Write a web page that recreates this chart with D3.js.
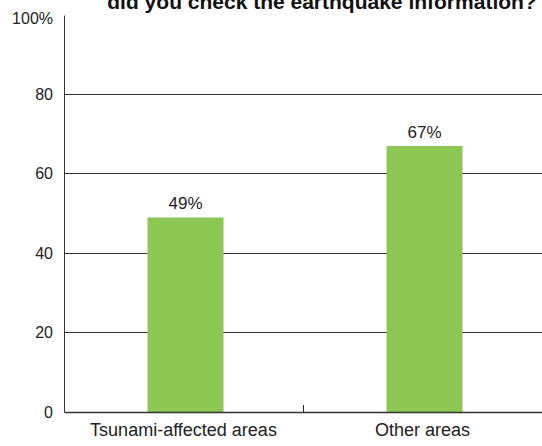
<!DOCTYPE html>
<html><head><meta charset="utf-8">
<script src="https://cdn.jsdelivr.net/npm/d3@7"></script>
<style>body{margin:0;background:#fff}svg{display:block}</style>
</head><body>
<script>
const categories = ["Tsunami-affected areas", "Other areas"];
const values = [49, 67];
const yTicks = [0, 20, 40, 60, 80, 100];
const title = "did you check the earthquake information?";

const W = 542, H = 446;
const m = {left: 64, right: 0, top: 15, bottom: 34};
const svg = d3.select("body").append("svg").attr("width", W).attr("height", H);
const font = "Liberation Sans, Arial, sans-serif";

const x = d3.scaleBand().domain(categories).range([m.left, W - m.right]).paddingInner(0).paddingOuter(0);
const y = d3.scaleLinear().domain([0, 100]).range([H - m.bottom, m.top]);

// gridlines
svg.append("g").selectAll("line").data(yTicks.filter(d => d > 0 && d < 100)).join("line")
  .attr("x1", m.left).attr("x2", W).attr("y1", d => y(d)).attr("y2", d => y(d))
  .attr("stroke", "#333").attr("stroke-width", 1).attr("shape-rendering", "crispEdges");

// bars
const bw = 76;
svg.append("g").selectAll("rect").data(values).join("rect")
  .attr("x", (d, i) => x(categories[i]) + x.bandwidth() / 2 - bw / 2 + 2)
  .attr("width", bw)
  .attr("y", d => y(d)).attr("height", d => y(0) - y(d))
  .attr("fill", "#8cc653");

// value labels
svg.append("g").selectAll("text").data(values).join("text")
  .attr("x", (d, i) => x(categories[i]) + x.bandwidth() / 2 + 2)
  .attr("y", d => y(d) - 8)
  .attr("text-anchor", "middle").attr("font-family", font).attr("font-size", 17).attr("fill", "#222")
  .text(d => d + "%");

// y axis
const yAxis = d3.axisLeft(y).tickValues(yTicks).tickSize(0).tickPadding(11)
  .tickFormat(d => d === 100 ? "100%" : d);
const gy = svg.append("g").attr("transform", `translate(${m.left},0)`).call(yAxis);
gy.select(".domain").attr("stroke", "#333");
gy.selectAll("text").attr("font-family", font).attr("font-size", 16).attr("fill", "#222");
gy.selectAll(".tick").filter(d => d === 100).select("text").attr("dy", "0.5em");

// x axis
const xAxis = d3.axisBottom(x).tickSize(0).tickPadding(11);
const gx = svg.append("g").attr("transform", `translate(0,${y(0)})`).call(xAxis);
gx.select(".domain").attr("stroke", "#333").attr("stroke-width", 1.5);
gx.selectAll("text").attr("font-family", font).attr("font-size", 18).attr("fill", "#222");
// separator tick between categories
svg.append("line").attr("x1", x(categories[1]) + 0.5).attr("x2", x(categories[1]) + 0.5)
  .attr("y1", y(0) - 7).attr("y2", y(0)).attr("stroke", "#222");

// title (clipped at top)
svg.append("text").attr("x", 322).attr("y", 9).attr("text-anchor", "middle")
  .attr("font-family", font).attr("font-weight", "bold").attr("font-size", 21).attr("fill", "#111")
  .text(title);
</script>
</body></html>
